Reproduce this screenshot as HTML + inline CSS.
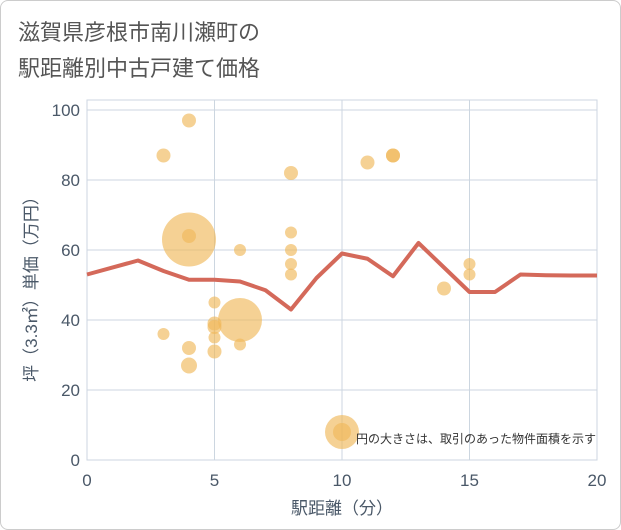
<!DOCTYPE html>
<html><head><meta charset="utf-8"><style>
body{margin:0;background:#fff;font-family:"Liberation Sans","Noto Sans CJK JP",sans-serif;}
#wrap{position:relative;width:619px;height:528px;border:1px solid #ccc;border-radius:8px;overflow:hidden;background:#fff}
</style></head><body>
<div id="wrap">
<svg id="c" width="621" height="530" style="position:absolute;left:-1px;top:-1px">
<text x="18" y="40" font-size="22" fill="#555" font-family="Liberation Sans,Noto Sans CJK JP,sans-serif">滋賀県彦根市南川瀬町の</text>
<text x="18" y="76" font-size="22" fill="#555" font-family="Liberation Sans,Noto Sans CJK JP,sans-serif">駅距離別中古戸建て価格</text>
<g id="grid"></g><g id="bub"></g><g id="ln"></g><g id="ax"></g>
<text x="596" y="443" font-size="12" fill="#333" text-anchor="end" font-family="Liberation Sans,Noto Sans CJK JP,sans-serif">円の大きさは、取引のあった物件面積を示す</text>
<text x="342" y="514" font-size="17" fill="#4a5868" text-anchor="middle" font-family="Liberation Sans,Noto Sans CJK JP,sans-serif">駅距離（分）</text>
<text transform="translate(37,285) rotate(-90)" font-size="17" fill="#4a5868" text-anchor="middle" font-family="Liberation Sans,Noto Sans CJK JP,sans-serif">坪（3.3㎡）単価（万円）</text>
</svg></div>
<script>
const lineX=[0,2,3,4,5,6,7,8,9,10,11,12,13,14,15,16,17,18,19,20];
const lineY=[53,57,54,51.5,51.5,51,48.5,43,52,59,57.5,52.5,62,55,48,48,53,52.8,52.7,52.7];
const bubX=[3,4,4,4,3,4,4,5,5,5,5,5,6,6,6,8,8,8,8,8,11,12,12,14,15,15,10,10];
const bubY=[87,97,63,64,36,32,27,45,39,38,35,31,60,40,33,82,65,60,56,53,85,87,87,49,56,53,8,8];
const bubR=[7,7,27,7,6,7,8,6,7,7,6,7,6,22,6,7,6,6,6,6,7,7,7,7,6,6,17,9];
const xTicks=[0,5,10,15,20];
const yTicks=[0,20,40,60,80,100];
const X0=87,X1=597,Y0=460,Y1=110;
const sx=v=>X0+(X1-X0)*v/20, sy=v=>Y0-(Y0-Y1)*v/100;
const NS="http://www.w3.org/2000/svg";
function mk(tag,parent,at){const e=document.createElementNS(NS,tag);for(const k in at)e.setAttribute(k,at[k]);document.getElementById(parent).appendChild(e);return e;}
let r=mk('rect','grid',{x:X0,y:100,width:X1-X0,height:Y0-100,fill:'none',stroke:'#ccd6e0'});


xTicks.forEach(t=>{const l=mk('line','grid',{x1:sx(t),x2:sx(t),y1:100,y2:Y0,stroke:'#ccd6e0'});


const tx=mk('text','ax',{x:sx(t),y:486,'font-size':17,fill:'#4a5868','text-anchor':'middle'});tx.textContent=t;

});
yTicks.forEach(t=>{const l=mk('line','grid',{x1:X0,x2:X1,y1:sy(t),y2:sy(t),stroke:'#ccd6e0'});


const tx=mk('text','ax',{x:80,y:sy(t)+6,'font-size':17,fill:'#4a5868','text-anchor':'end'});tx.textContent=t;

});
bubX.forEach((v,i)=>{const c=mk('circle','bub',{cx:sx(v),cy:sy(bubY[i]),r:bubR[i],fill:'#f0b95a','fill-opacity':0.65});

});
const p=mk('polyline','ln',{points:lineX.map((v,i)=>sx(v)+','+sy(lineY[i])).join(' '),fill:'none',stroke:'#d4695a','stroke-width':4,'stroke-linejoin':'round'});


</script>
</body></html>
